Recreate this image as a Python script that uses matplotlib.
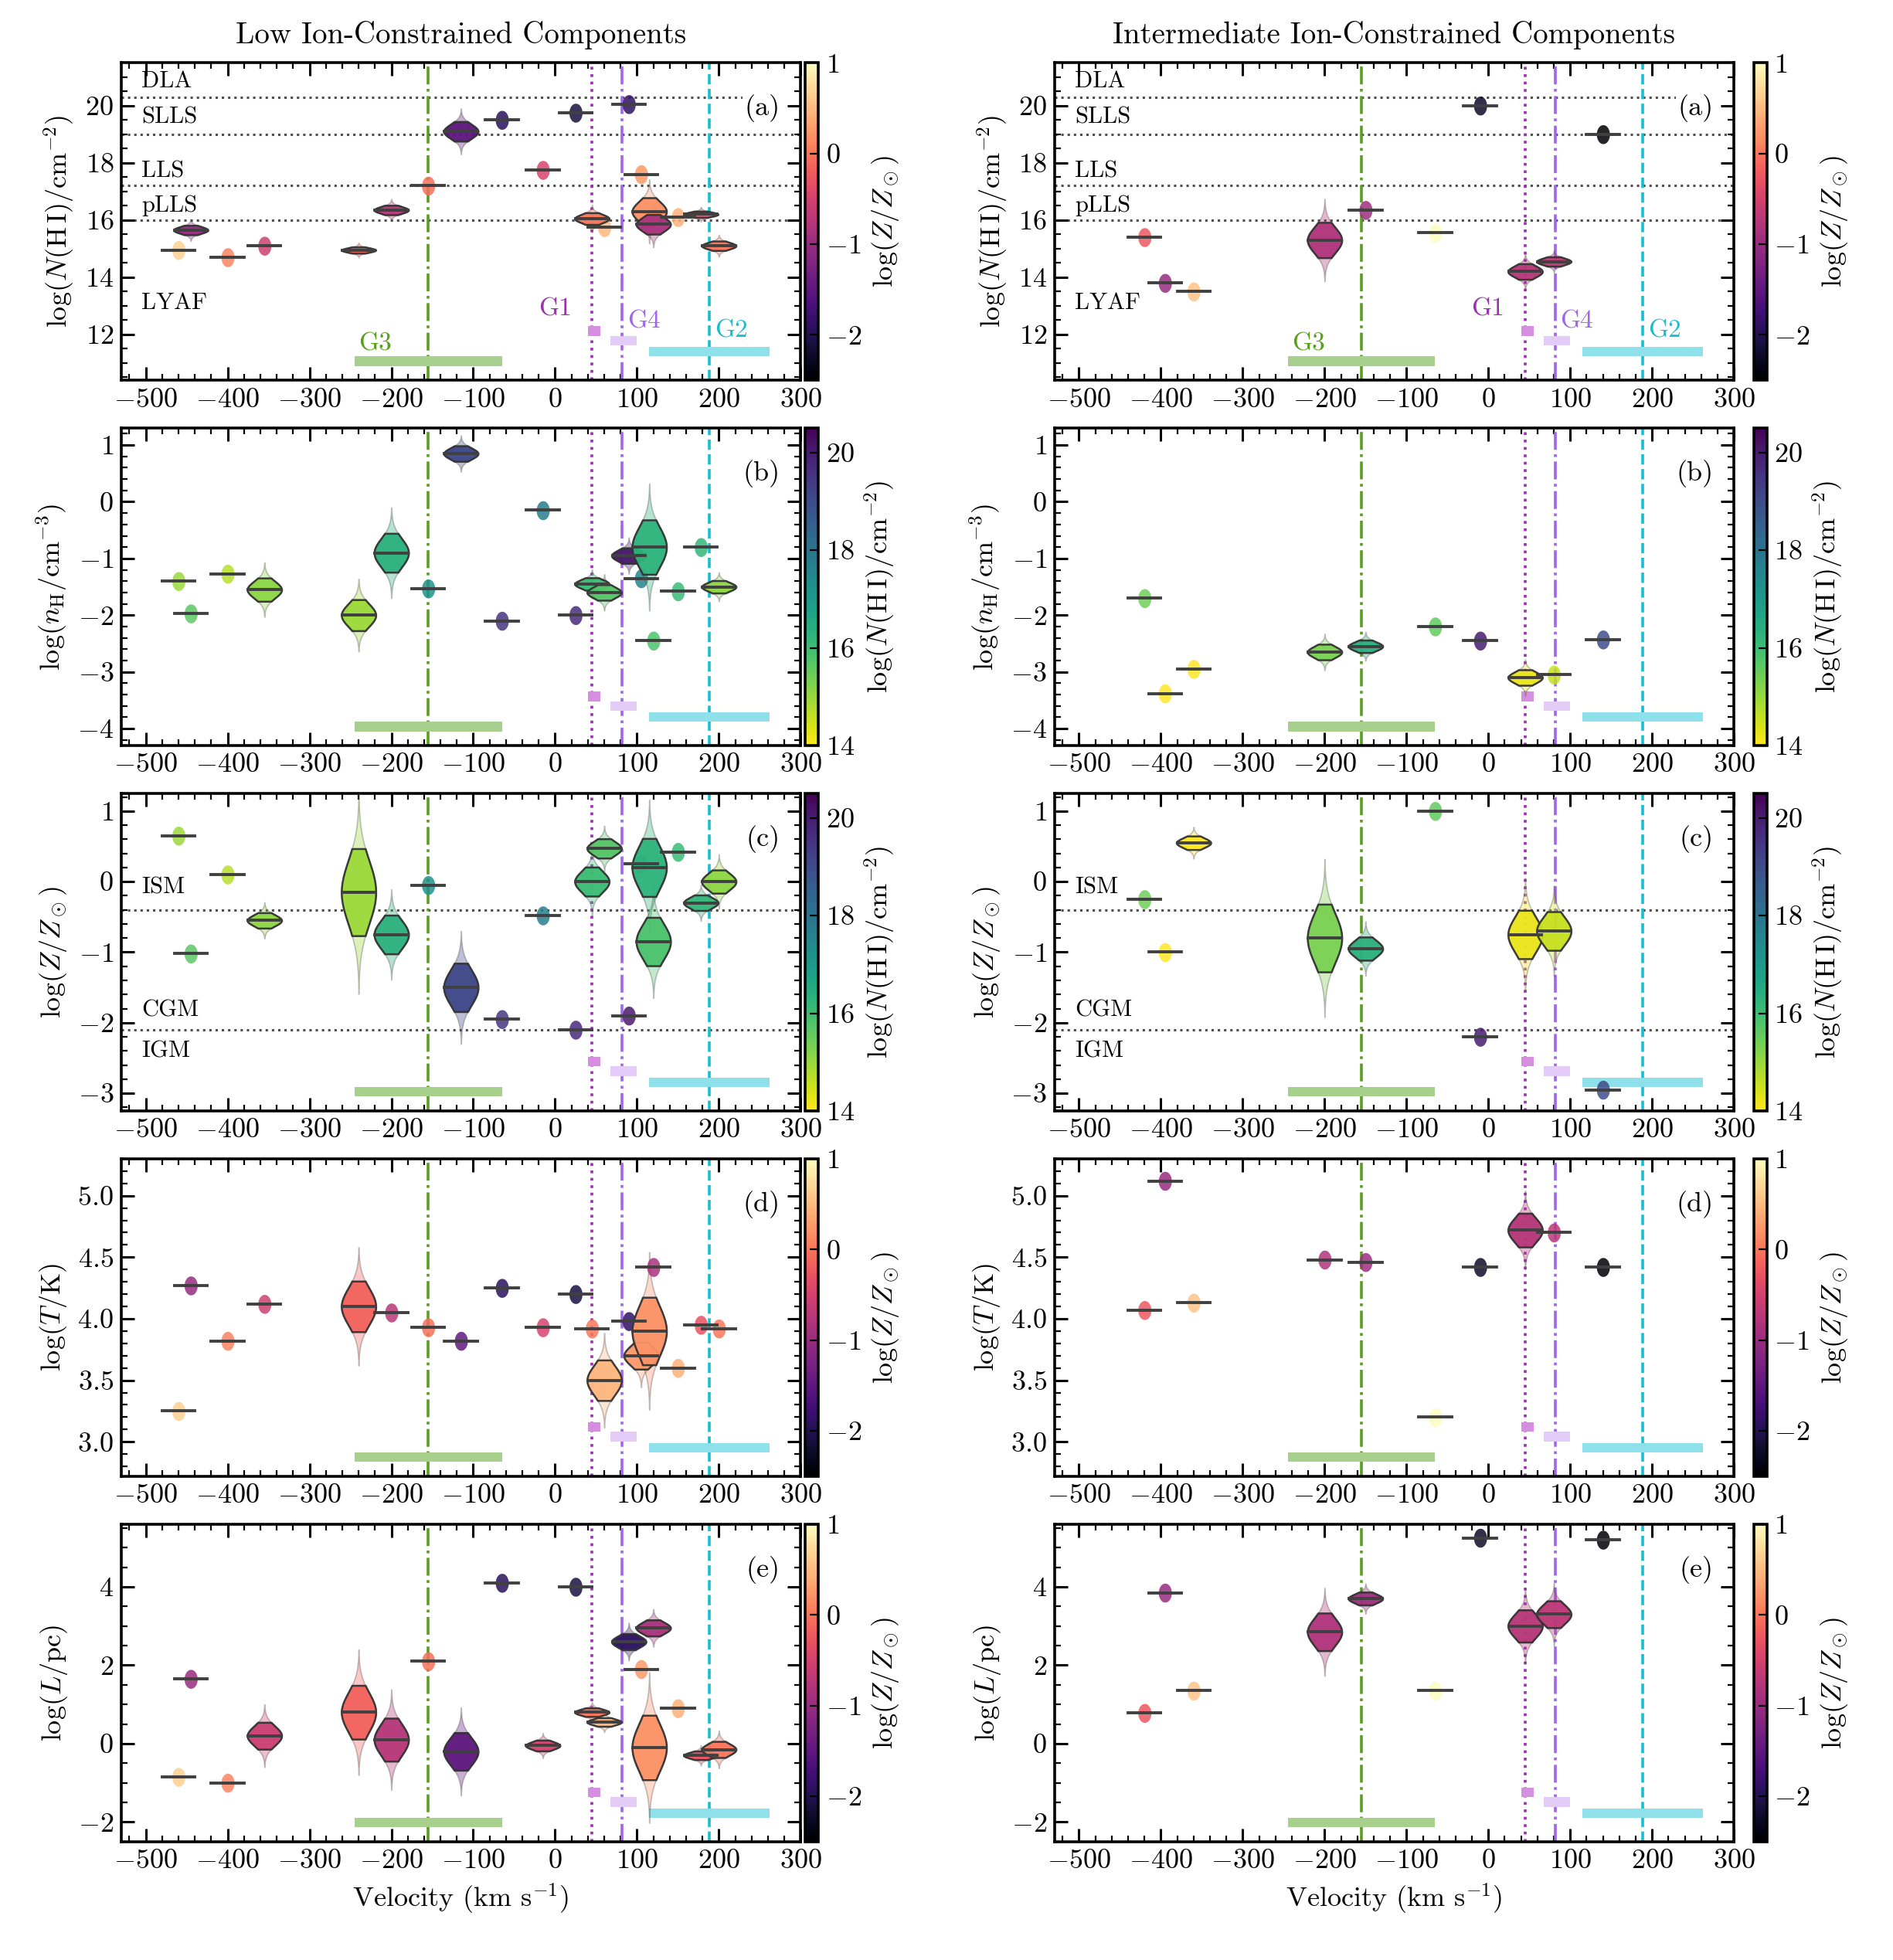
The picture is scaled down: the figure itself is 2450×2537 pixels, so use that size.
import numpy as np
import matplotlib
matplotlib.use("Agg")
import matplotlib.pyplot as plt
import matplotlib.transforms as mtrans
from matplotlib.colors import Normalize

plt.rcParams["font.family"] = ["cmr10", "DejaVu Serif"]
plt.rcParams["mathtext.fontset"] = "cm"
plt.rcParams["axes.formatter.use_mathtext"] = True
plt.rcParams["font.size"] = 12
plt.rcParams["axes.linewidth"] = 1.3

# ==========================================================
# DATA  (left: low ion, right: intermediate ion)
# ==========================================================
L_vel  = [-460, -445, -400, -355, -240, -200, -155, -115, -65, -15, 25, 45, 60, 90, 105, 115, 120, 150, 178, 200]
L_nhi  = [14.95, 15.65, 14.7, 15.1, 14.95, 16.35, 17.2, 19.1, 19.5, 17.75, 19.75, 16.05, 15.75, 20.05, 17.6, 16.3, 15.85, 16.1, 16.2, 15.1]
L_nh   = [-1.4, -1.97, -1.27, -1.55, -2.0, -0.9, -1.53, 0.85, -2.1, -0.15, -2.0, -1.45, -1.6, -0.95, -1.35, -0.8, -2.45, -1.58, -0.8, -1.5]
L_z    = [0.65, -1.02, 0.1, -0.55, -0.15, -0.75, -0.05, -1.5, -1.95, -0.48, -2.1, 0.0, 0.47, -1.9, 0.25, 0.2, -0.85, 0.42, -0.3, 0.0]
L_t    = [3.25, 4.27, 3.82, 4.12, 4.1, 4.05, 3.93, 3.82, 4.25, 3.93, 4.2, 3.92, 3.5, 3.98, 3.7, 3.9, 4.42, 3.6, 3.95, 3.92]
L_l    = [-0.85, 1.65, -1.0, 0.2, 0.8, 0.1, 2.1, -0.2, 4.1, -0.05, 4.0, 0.8, 0.55, 2.6, 1.9, -0.1, 2.95, 0.9, -0.3, -0.15]
# posterior widths (dex)
L_s_nhi = [0.05, 0.12, 0.05, 0.05, 0.08, 0.12, 0.05, 0.25, 0.05, 0.05, 0.05, 0.15, 0.05, 0.05, 0.05, 0.35, 0.25, 0.05, 0.08, 0.12]
L_s_nh  = [0.03, 0.03, 0.03, 0.15, 0.2, 0.25, 0.03, 0.1, 0.03, 0.05, 0.03, 0.08, 0.1, 0.1, 0.03, 0.35, 0.03, 0.03, 0.04, 0.08]
L_s_z   = [0.03, 0.03, 0.03, 0.08, 0.45, 0.2, 0.03, 0.25, 0.03, 0.03, 0.03, 0.15, 0.1, 0.03, 0.06, 0.3, 0.25, 0.03, 0.08, 0.12]
L_s_t   = [0.02, 0.02, 0.02, 0.03, 0.15, 0.04, 0.02, 0.06, 0.02, 0.02, 0.02, 0.02, 0.12, 0.02, 0.08, 0.2, 0.02, 0.02, 0.02, 0.05]
L_s_l   = [0.05, 0.05, 0.05, 0.25, 0.5, 0.4, 0.05, 0.35, 0.05, 0.1, 0.05, 0.08, 0.08, 0.15, 0.05, 0.6, 0.15, 0.05, 0.08, 0.15]

R_vel  = [-420, -395, -360, -200, -150, -65, -10, 45, 80, 140]
R_nhi  = [15.4, 13.8, 13.5, 15.3, 16.35, 15.55, 20.0, 14.2, 14.55, 19.0]
R_nh   = [-1.7, -3.38, -2.95, -2.65, -2.55, -2.2, -2.45, -3.1, -3.05, -2.43]
R_z    = [-0.25, -1.0, 0.55, -0.8, -0.95, 1.0, -2.2, -0.75, -0.7, -2.95]
R_t    = [4.07, 5.12, 4.13, 4.48, 4.46, 3.2, 4.42, 4.72, 4.7, 4.42]
R_l    = [0.78, 3.85, 1.35, 2.85, 3.7, 1.35, 5.25, 3.0, 3.3, 5.2]
R_s_nhi = [0.05, 0.05, 0.05, 0.45, 0.05, 0.03, 0.05, 0.2, 0.12, 0.06]
R_s_nh  = [0.03, 0.03, 0.05, 0.1, 0.08, 0.03, 0.03, 0.1, 0.05, 0.03]
R_s_z   = [0.03, 0.03, 0.07, 0.35, 0.12, 0.03, 0.03, 0.25, 0.2, 0.03]
R_s_t   = [0.02, 0.02, 0.04, 0.06, 0.02, 0.02, 0.02, 0.1, 0.06, 0.02]
R_s_l   = [0.04, 0.04, 0.06, 0.35, 0.12, 0.04, 0.04, 0.3, 0.25, 0.04]

# galaxies: name, velocity, colour, line style, bar extent
gal_names = ["G3", "G1", "G4", "G2"]
gal_vel   = [-155, 45, 82, 188]
gal_col   = ["#5a9e1e", "#9b30b0", "#a066e8", "#17becf"]
gal_ls    = ["-.", ":", "-.", "--"]
gal_bar   = [(-245, -65), (40, 55), (68, 100), (115, 262)]
gal_barc  = ["#a8d08d", "#d58ee0", "#e3cdf8", "#8ee0ea"]
gal_bary  = [0.06, 0.155, 0.125, 0.09]

panels = ["a", "b", "c", "d", "e"]
ylabels = [r"$\log(N(\mathrm{H\,I})/\mathrm{cm}^{-2})$", r"$\log(n_\mathrm{H}/\mathrm{cm}^{-3})$",
           r"$\log(Z/Z_\odot)$", r"$\log(T/\mathrm{K})$", r"$\log(L/\mathrm{pc})$"]
ylims = [(10.4, 21.5), (-4.3, 1.3), (-3.25, 1.25), (2.72, 5.3), (-2.5, 5.6)]
yticks = [[12, 14, 16, 18, 20], [-4, -3, -2, -1, 0, 1], [-3, -2, -1, 0, 1],
          [3.0, 3.5, 4.0, 4.5, 5.0], [-2, 0, 2, 4]]

zn = Normalize(-2.5, 1.0)
nn = Normalize(14, 20.5)
zcmap = plt.get_cmap("magma")
ncmap = plt.get_cmap("viridis_r")


def draw_violin(ax, v, m, s, color, yr):
    dot_h = 0.03 * yr
    if s < 0.07:
        # compact posterior -> small ellipse
        yy = np.linspace(m - dot_h, m + dot_h, 60)
        hw = 8 * np.sqrt(np.clip(1 - ((yy - m) / dot_h) ** 2, 0, 1))
        ax.fill_betweenx(yy, v - hw, v + hw, color=color, alpha=0.85, lw=0, zorder=3)
    else:
        yy = np.linspace(m - 3.2 * s, m + 3.2 * s, 120)
        prof = np.exp(-0.5 * ((yy - m) / s) ** 2)
        hw = 21 * prof
        ax.fill_betweenx(yy, v - hw, v + hw, color=color, alpha=0.35, lw=0.6,
                         edgecolor="0.3", zorder=3)
        k = np.abs(yy - m) < 1.4 * s
        ax.fill_betweenx(yy[k], v - hw[k], v + hw[k], color=color, alpha=0.95, lw=0.9,
                         edgecolor="0.2", zorder=4)
    ax.plot([v - 20, v + 20], [m, m], color="0.25", lw=1.4, zorder=5)


fig = plt.figure(figsize=(12.25, 12.685), dpi=200)
cols = [
    (0.064, 0.4255, "Low Ion-Constrained Components",
     L_vel, L_nhi, L_z, [L_nhi, L_nh, L_z, L_t, L_l], [L_s_nhi, L_s_nh, L_s_z, L_s_t, L_s_l]),
    (0.557, 0.9265, "Intermediate Ion-Constrained Components",
     R_vel, R_nhi, R_z, [R_nhi, R_nh, R_z, R_t, R_l], [R_s_nhi, R_s_nh, R_s_z, R_s_t, R_s_l]),
]

for x0, cx0, title, vel, nhi, zz, vals, sigs in cols:
    for i in range(5):
        bottom = 0.806 - i * 0.1864
        ax = fig.add_axes([x0, bottom, 0.359, 0.162])
        cax = fig.add_axes([cx0, bottom, 0.0068, 0.162])
        by_z = i in (0, 3, 4)
        yr = ylims[i][1] - ylims[i][0]
        for j in range(len(vel)):
            c = zcmap(zn(zz[j])) if by_z else ncmap(nn(nhi[j]))
            draw_violin(ax, vel[j], vals[i][j], sigs[i][j], c, yr)
        trans = mtrans.blended_transform_factory(ax.transData, ax.transAxes)
        for g in range(4):
            ax.axvline(gal_vel[g], color=gal_col[g], ls=gal_ls[g], lw=1.3, zorder=2)
            x1, x2 = gal_bar[g]
            ax.fill_between([x1, x2], gal_bary[g] - 0.015, gal_bary[g] + 0.015,
                            color=gal_barc[g], lw=0, transform=trans, zorder=2)
        if i == 0:
            for g, (tx, ty) in enumerate([(-240, 0.08), (20, 0.19), (88, 0.15), (195, 0.12)]):
                ax.text(tx, ty, gal_names[g], color=gal_col[g], transform=trans, fontsize=12,
                        ha="left" if g != 1 else "right", va="bottom")
            for yv, xe in zip([20.3, 19.0, 17.2, 16.0], [230, 300, 300, 300]):
                ax.plot([-530, xe], [yv, yv], ls=":", color="0.3", lw=1.1, zorder=1)
            for txt, yv in zip(["DLA", "SLLS", "LLS", "pLLS", "LYAF"], [20.85, 19.6, 17.7, 16.5, 13.1]):
                ax.text(-505, yv, txt, fontsize=11, va="center")
        if i == 2:
            for yv in [-0.4, -2.1]:
                ax.axhline(yv, ls=":", color="0.3", lw=1.1, zorder=1)
            for txt, yv in zip(["ISM", "CGM", "IGM"], [-0.08, -1.83, -2.4]):
                ax.text(-505, yv, txt, fontsize=11, va="center")
        ax.text(0.97, 0.9, f"({panels[i]})", transform=ax.transAxes, ha="right", va="top", fontsize=13,
                bbox=dict(fc="white", ec="none", pad=1))
        ax.set_xlim(-530, 300)
        ax.set_ylim(*ylims[i])
        ax.set_yticks(yticks[i])
        ax.set_xticks(range(-500, 301, 100))
        ax.minorticks_on()
        ax.tick_params(which="both", direction="in", top=True, right=True, labelsize=13)
        ax.tick_params(which="major", length=6, width=1.1)
        ax.tick_params(which="minor", length=3, width=0.8)
        ax.set_ylabel(ylabels[i], fontsize=13)
        if i == 0:
            ax.set_title(title, fontsize=14, pad=9)
        if i == 4:
            ax.set_xlabel(r"Velocity (km s$^{-1}$)", fontsize=13)
        if by_z:
            sm = plt.cm.ScalarMappable(norm=zn, cmap=zcmap)
            cb = fig.colorbar(sm, cax=cax, ticks=[-2, -1, 0, 1])
            cb.set_label(r"$\log(Z/Z_\odot)$", fontsize=13)
        else:
            sm = plt.cm.ScalarMappable(norm=nn, cmap=ncmap)
            cb = fig.colorbar(sm, cax=cax, ticks=[14, 16, 18, 20])
            cb.set_label(r"$\log(N(\mathrm{H\,I})/\mathrm{cm}^{-2})$", fontsize=13)
        cb.ax.tick_params(labelsize=13, direction="in", length=4)

fig.savefig("out.png", dpi=200)
